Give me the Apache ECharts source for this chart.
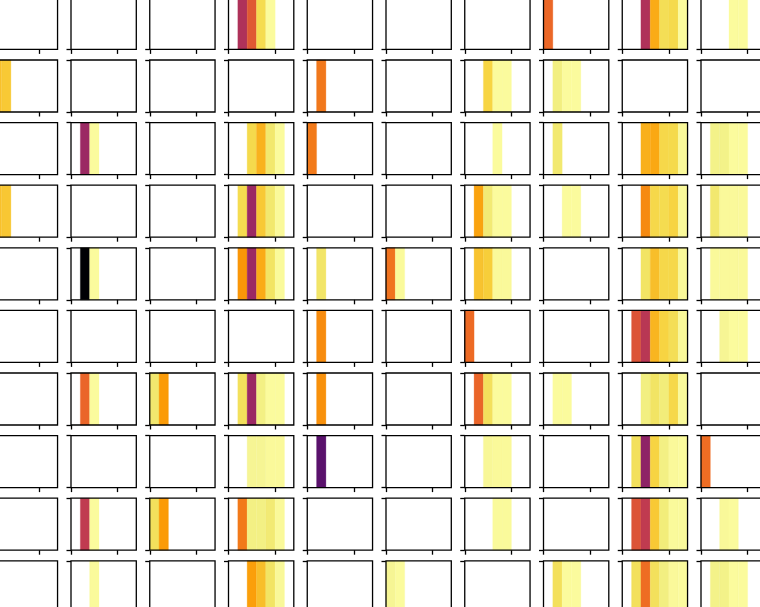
<!DOCTYPE html>
<html><head><meta charset="utf-8">
<script src="https://cdn.jsdelivr.net/npm/echarts@6/dist/echarts.min.js"></script>
<style>html,body{margin:0;padding:0;background:#fff;overflow:hidden}#c{width:760px;height:607px}</style>
</head><body><div id="c"></div>
<script>
const _ = null;
// each row: 10 panels, each panel: 7 cell values (null = empty)
const row0 = [
  [_,_,_,_,_,_,_],[_,_,_,_,_,_,_],[_,_,_,_,_,_,_],
  [_,0.47,0.62,0.915,0.99,_,_],
  [_,_,_,_,_,_,_],[_,_,_,_,_,_,_],[_,_,_,_,_,_,_],
  [0.66,_,_,_,_,_,_],
  [_,_,0.47,0.81,0.92,0.91,0.99],
  [_,_,_,0.99,0.99,_,_]
];
const row1 = [
  [0.855,0.873,_,_,_,_,_],
  [_,_,_,_,_,_,_],[_,_,_,_,_,_,_],[_,_,_,_,_,_,_],
  [_,0.70,_,_,_,_,_],
  [_,_,_,_,_,_,_],
  [_,_,0.897,0.99,0.99,_,_],
  [_,0.96,0.99,0.99,_,_,_],
  [_,_,_,_,_,_,_],[_,_,_,_,_,_,_]
];
const row2 = [
  [_,_,_,_,_,_,_],
  [_,0.42,0.99,_,_,_,_],
  [_,_,_,_,_,_,_],
  [_,_,0.91,0.825,0.944,0.99,_],
  [0.705,_,_,_,_,_,_],
  [_,_,_,_,_,_,_],
  [_,_,_,0.99,_,_,_],
  [_,0.946,_,_,_,_,_],
  [_,_,0.821,0.805,0.906,0.91,0.985],
  [_,0.967,0.967,0.99,0.99,_,_]
];
const row3 = [
  [0.855,0.868,_,_,_,_,_],
  [_,_,_,_,_,_,_],[_,_,_,_,_,_,_],
  [_,0.915,0.42,0.873,0.944,0.985,_],
  [_,_,_,_,_,_,_],[_,_,_,_,_,_,_],
  [_,0.795,0.949,0.99,0.99,_,_],
  [_,_,0.99,0.99,_,_,_],
  [_,_,0.74,0.906,0.915,0.896,0.985],
  [_,0.945,0.985,0.985,0.985,_,_]
];
const row4 = [
  [_,_,_,_,_,_,_],
  [_,0.0,0.99,_,_,_,_],
  [_,_,_,_,_,_,_],
  [_,0.77,0.42,0.81,0.934,0.987,_],
  [_,0.938,_,_,_,_,_],
  [0.69,0.987,_,_,_,_,_],
  [_,0.86,0.883,0.985,0.985,_,_],
  [_,_,_,_,_,_,_],
  [_,_,0.934,0.85,0.906,0.906,0.983],
  [_,0.985,0.985,0.985,0.985,_,_]
];
const row5 = [
  [_,_,_,_,_,_,_],[_,_,_,_,_,_,_],[_,_,_,_,_,_,_],[_,_,_,_,_,_,_],
  [_,0.745,_,_,_,_,_],
  [_,_,_,_,_,_,_],
  [0.67,_,_,_,_,_,_],
  [_,_,_,_,_,_,_],
  [_,0.604,0.494,0.831,0.896,0.92,0.983],
  [_,_,0.976,0.99,0.99,_,_]
];
const row6 = [
  [_,_,_,_,_,_,_],
  [_,0.655,0.99,_,_,_,_],
  [0.944,0.778,_,_,_,_,_],
  [_,0.925,0.42,0.963,0.99,0.99,_],
  [_,0.755,_,_,_,_,_],
  [_,_,_,_,_,_,_],
  [_,0.655,0.925,0.99,0.99,_,_],
  [_,0.99,0.99,_,_,_,_],
  [_,_,0.96,0.934,0.954,0.906,0.987],
  [_,_,_,_,_,_,_]
];
const row7 = [
  [_,_,_,_,_,_,_],[_,_,_,_,_,_,_],[_,_,_,_,_,_,_],
  [_,_,0.976,0.976,0.985,0.985,_],
  [_,0.26,_,_,_,_,_],
  [_,_,_,_,_,_,_],
  [_,_,0.98,0.985,0.985,_,_],
  [_,_,_,_,_,_,_],
  [_,0.925,0.388,0.896,0.963,0.985,0.99],
  [0.675,_,_,_,_,_,_]
];
const row8 = [
  [_,_,_,_,_,_,_],
  [_,0.515,0.99,_,_,_,_],
  [0.925,0.778,_,_,_,_,_],
  [_,0.706,0.963,0.963,0.949,0.985,_],
  [_,_,_,_,_,_,_],[_,_,_,_,_,_,_],
  [_,_,_,0.987,0.987,_,_],
  [_,_,_,_,_,_,_],
  [_,0.604,0.515,0.873,0.954,0.987,0.987],
  [_,_,0.983,0.99,_,_,_]
];
const row9 = [
  [_,_,_,_,_,_,_],
  [_,_,0.987,_,_,_,_],
  [_,_,_,_,_,_,_],
  [_,_,0.787,0.85,0.934,0.983,_],
  [_,_,_,_,_,_,_],
  [0.976,0.99,_,_,_,_,_],
  [_,_,_,_,_,_,_],
  [_,0.925,0.99,0.99,_,_,_],
  [_,0.925,0.675,0.925,0.96,0.985,0.99],
  [_,0.967,0.967,0.99,0.99,_,_]
];
const xTicks = [0, 5];
const xRange = [0, 7];
const yRange = [0, 1];
// inferno colormap anchors [position, colour]
const infernoStops = [
  [0.000,'#000004'],[0.111,'#1b0c41'],[0.222,'#4a0c6b'],[0.333,'#781c6d'],
  [0.444,'#a52c60'],[0.556,'#cf4446'],[0.667,'#ed6925'],[0.778,'#fb9b06'],
  [0.889,'#f7d13d'],[0.915,'#f5dc50'],[0.925,'#f3e05c'],[0.944,'#f2e86e'],
  [0.963,'#f2f084'],[0.976,'#f6f594'],[0.988,'#fbfa9c'],[1.000,'#fcffa4']
];
function hexToRgb(h) { return [1,3,5].map(i => parseInt(h.substr(i, 2), 16)); }
function buildColormap(stops, n) {
  const out = [];
  for (let k = 0; k < n; k++) {
    const t = k / (n - 1);
    let j = 0;
    while (j < stops.length - 2 && t > stops[j + 1][0]) j++;
    const a = stops[j], b = stops[j + 1];
    const f = Math.max(0, Math.min(1, (t - a[0]) / (b[0] - a[0])));
    const ca = hexToRgb(a[1]), cb = hexToRgb(b[1]);
    const c = ca.map((v, m) => Math.round(v + (cb[m] - v) * f));
    out.push('rgb(' + c.join(',') + ')');
  }
  return out;
}
const infernoColors = buildColormap(infernoStops, 201);

const rows = [row0,row1,row2,row3,row4,row5,row6,row7,row8,row9];
const colLeft0 = -7.75, colStep = 78.75, panelW = 65.3;
const rowTop0 = -2.6, rowStep = 62.6, panelH = 52;
const grids = [], xAxes = [], yAxes = [], series = [];
rows.forEach((row, r) => row.forEach((cells, c) => {
  const i = grids.length;
  grids.push({left: colLeft0 + c * colStep, top: rowTop0 + r * rowStep, width: panelW, height: panelH,
    show: true, borderColor: '#000', borderWidth: 1.3, backgroundColor: 'transparent', z: 5,
    containLabel: false, outerBoundsMode: 'none'});
  xAxes.push({gridIndex: i, type: 'value', min: xRange[0], max: xRange[1], position: 'bottom',
    axisLine: {show: false, onZero: false}, axisLabel: {show: false}, splitLine: {show: false},
    axisTick: {show: true, length: 4.5, customValues: xTicks, lineStyle: {color: '#000', width: 1.3}}});
  yAxes.push({gridIndex: i, type: 'value', min: yRange[0], max: yRange[1], interval: 1, position: 'left',
    axisLine: {show: false, onZero: false}, axisLabel: {show: false}, splitLine: {show: false},
    axisTick: {show: true, length: 4.5, lineStyle: {color: '#000', width: 1.3}}});
  const data = [];
  cells.forEach((v, k) => { if (v !== null) data.push([k, 0, v]); });
  series.push({type: 'custom', xAxisIndex: i, yAxisIndex: i, data: data, silent: true, animation: false,
    encode: {x: 0, y: 1},
    renderItem: function (params, api) {
      const x = api.value(0), y = api.value(1);
      const p0 = api.coord([x, y + 1]);
      const p1 = api.coord([x + 1, y]);
      return {type: 'rect', shape: {x: p0[0], y: p0[1], width: p1[0] - p0[0], height: p1[1] - p0[1]},
        style: {fill: api.visual('color'), stroke: api.visual('color'), lineWidth: 0.3}};
    }});
}));

const chart = echarts.init(document.getElementById('c'), null, {renderer: 'canvas'});
chart.setOption({
  animation: false,
  backgroundColor: '#fff',
  grid: grids, xAxis: xAxes, yAxis: yAxes,
  visualMap: {type: 'continuous', show: false, min: 0, max: 1, dimension: 2,
    seriesIndex: series.map((s, i) => i), inRange: {color: infernoColors}},
  series: series
});
</script></body></html>
